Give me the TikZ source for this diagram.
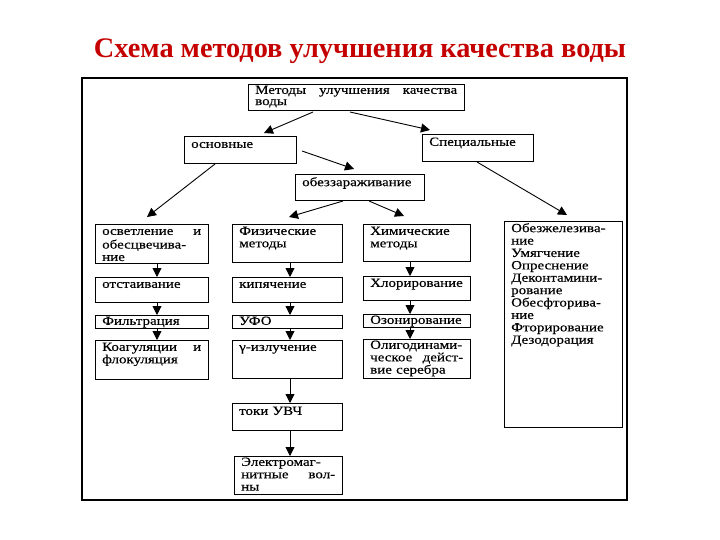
\documentclass[tikz,border=0pt]{standalone}
\usepackage{fontspec}
\setmainfont{Liberation Serif}
\newfontfamily\boxfont[FakeStretch=1.2,FakeBold=0.4]{Liberation Serif}
\usetikzlibrary{arrows.meta,calc}
\definecolor{titlered}{RGB}{196,0,0}
\tikzset{
  bx/.style={draw, line width=0.9pt, inner sep=0pt, outer sep=0pt, anchor=north west},
  txt/.style={inner sep=0pt, anchor=north west, align=left, font=\boxfont\fontsize{12.5}{12.4}\selectfont, execute at begin node=\strut},
  arr/.style={draw, line width=0.9pt, -{Triangle[length=9pt,width=9pt]}},
  frame/.style={draw, line width=1.2pt},
  ttl/.style={text=titlered, font=\fontsize{28.3}{32}\selectfont\bfseries, inner sep=0pt, anchor=base}
}
% name, x, y, width, height, text, y-offset of text
\newcommand{\mybox}[7]{%
  \node[bx, minimum width=#4pt, minimum height=#5pt] (#1) at (#2,#3) {};
  \node[txt, text width=#4pt-14pt] (#1t) at ($(#1.north west)+(7,#7)$) {#6};
}
\begin{document}
\begin{tikzpicture}[x=1pt,y=-1pt]
\useasboundingbox (0,0) rectangle (720,540);
\node[ttl] (title) at (360,58) {Схема методов улучшения качества воды};
\draw[frame] (82,78) rectangle (627,500);

\mybox{top}{248}{84}{216}{26}{Методы\hfill улучшения\hfill качества\\[-1.2pt]воды}{1}
\mybox{osn}{184}{136}{112}{27}{основные}{3}
\mybox{spec}{422}{134}{111}{27}{Специальные}{3}
\mybox{obez}{295}{174}{129}{26}{обеззараживание}{3}

\mybox{l1}{95}{224}{113}{39}{осветление\hfill и\\обесцвечива-\\ние}{2}
\mybox{l2}{95}{277}{113}{25}{отстаивание}{2}
\mybox{l3}{95}{315}{113}{13}{Фильтрация}{1}
\mybox{l4}{95}{340}{113}{39}{Коагуляции\hfill и\\флокуляция}{2}

\mybox{m1}{232}{224}{110}{38}{Физические\\методы}{2}
\mybox{m2}{232}{277}{110}{25}{кипячение}{2}
\mybox{m3}{232}{315}{110}{13}{УФО}{1}
\mybox{m4}{232}{340}{110}{38}{γ-излучение}{2}
\mybox{m5}{232}{403}{110}{27}{токи УВЧ}{3}
\mybox{m6}{234}{456}{108}{38}{Электромаг-\\нитные\hfill вол-\\ны}{1}

\mybox{c1}{363}{224}{107}{37}{Химические\\методы}{2}
\mybox{c2}{363}{276}{107}{24}{Хлорирование}{2}
\mybox{c3}{363}{314}{107}{13}{Озонирование}{1}
\mybox{c4}{363}{339}{107}{39}{Олигодинами-\\ческое\hfill дейст-\\вие серебра}{1}

\mybox{r}{504}{221}{118}{206}{Обезжелезива-\\ние\\Умягчение\\Опреснение\\Деконтамини-\\рование\\Обесфторива-\\ние\\Фторирование\\Дезодорация}{2}

\draw[arr] ($(top.south west)+(65,2)$) -- ($(osn.north west)+(80,-3)$);
\draw[arr] ($(top.south west)+(102,2)$) -- ($(spec.north west)+(8,-4)$);
\draw[arr] ($(osn.north east)+(6,15)$) -- ($(obez.north west)+(59,-5)$);
\draw[arr] ($(osn.south west)+(31,1)$) -- ($(l1.north west)+(52,-7)$);
\draw[arr] ($(obez.south west)+(48,1)$) -- ($(m1.north west)+(57,-7)$);
\draw[arr] ($(obez.south west)+(74,1)$) -- ($(c1.north west)+(41,-8)$);
\draw[arr] ($(spec.south west)+(55,1)$) -- ($(r.north west)+(63,-6)$);

\coordinate (xL) at (157,0);
\coordinate (xM) at (290,0);
\coordinate (xC) at (410,0);
\foreach \a/\b in {l1/l2,l2/l3,l3/l4}{\draw[arr] (\a.south -| xL) -- (\b.north -| xL);}
\foreach \a/\b in {m1/m2,m2/m3,m3/m4,m4/m5,m5/m6}{\draw[arr] (\a.south -| xM) -- (\b.north -| xM);}
\foreach \a/\b in {c1/c2,c2/c3,c3/c4}{\draw[arr] (\a.south -| xC) -- (\b.north -| xC);}
\end{tikzpicture}
\end{document}
